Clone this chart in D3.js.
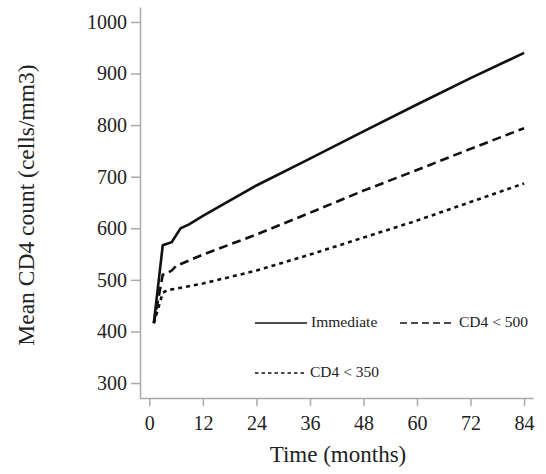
<!DOCTYPE html>
<meta charset="utf-8">
<style>
body { margin: 0; background: #fff; }
svg text { font-family: "Liberation Serif", "Times New Roman", serif; fill: #222; }
.axis path, .axis line { stroke: #aaa; stroke-width: 1.5; fill: none; }
.series { fill: none; stroke: #111; stroke-width: 2.6; }
</style>
<body>
<svg id="chart" width="546" height="474"></svg>
<script src="https://d3js.org/d3.v7.min.js"></script>
<script>
// months and mean CD4 count
var immMonths = [1, 3, 5, 7, 9, 12, 24, 36, 48, 60, 72, 84];
var immValues = [416, 567, 573, 600, 608, 624, 683, 735, 788, 840, 891, 940];

var c500Months = [1, 3, 4, 5, 6, 12, 24, 36, 48, 60, 72, 84];
var c500Values = [416, 510, 513, 518, 527, 549, 588, 630, 673, 713, 754, 794];

var c350Months = [1, 3, 4, 6, 12, 24, 36, 48, 60, 72, 84];
var c350Values = [416, 475, 480, 483, 493, 518, 549, 582, 615, 651, 687];

var xTicks = [0, 12, 24, 36, 48, 60, 72, 84];
var yTicks = [300, 400, 500, 600, 700, 800, 900, 1000];

var serif = "Liberation Serif, Times New Roman, serif";

var svg = d3.select("#chart");

var x = d3.scaleLinear().domain([-2.1, 86]).range([140, 533]);
var y = d3.scaleLinear().domain([271, 1029]).range([398, 7]);

// axes
svg.append("g")
  .attr("class", "x axis")
  .attr("transform", "translate(0,398)")
  .call(d3.axisBottom(x).tickValues(xTicks).tickFormat(d3.format("d"))
    .tickSize(8).tickSizeOuter(0).tickPadding(10));

svg.append("g")
  .attr("class", "y axis")
  .attr("transform", "translate(140,0)")
  .call(d3.axisLeft(y).tickValues(yTicks).tickFormat(d3.format("d"))
    .tickSize(9).tickSizeOuter(0).tickPadding(4));

svg.selectAll(".axis")
  .attr("font-family", serif)
  .attr("font-size", 20);
svg.selectAll(".axis .tick text").attr("fill", "#222");

// series
var line = d3.line().x(d => x(d[0])).y(d => y(d[1]));

var series = [
  {months: immMonths, values: immValues, dash: null},
  {months: c500Months, values: c500Values, dash: "9,5"},
  {months: c350Months, values: c350Values, dash: "4,4"}
];

series.forEach(s => {
  svg.append("path")
    .attr("class", "series")
    .attr("d", line(d3.zip(s.months, s.values)))
    .attr("stroke-dasharray", s.dash);
});

// axis titles
svg.append("text")
  .attr("x", 338).attr("y", 462)
  .attr("text-anchor", "middle")
  .attr("font-family", serif)
  .attr("font-size", 23)
  .text("Time (months)");

svg.append("text")
  .attr("transform", "translate(34,205) rotate(-90)")
  .attr("text-anchor", "middle")
  .attr("font-family", serif)
  .attr("font-size", 23.5)
  .text("Mean CD4 count (cells/mm3)");

// legend
var legend = [
  {label: "Immediate", dash: null, x: 255, y: 323, len: 52},
  {label: "CD4 < 500", dash: "7,4", x: 400, y: 323, len: 55},
  {label: "CD4 < 350", dash: "3.5,3", x: 255, y: 373, len: 51}
];

legend.forEach(l => {
  svg.append("line")
    .attr("x1", l.x).attr("x2", l.x + l.len)
    .attr("y1", l.y).attr("y2", l.y)
    .attr("stroke", "#111").attr("stroke-width", 1.6)
    .attr("stroke-dasharray", l.dash);
  svg.append("text")
    .attr("x", l.x + l.len + 4).attr("y", l.y)
    .attr("dominant-baseline", "middle")
    .attr("font-family", serif)
    .attr("font-size", 15.5)
    .text(l.label);
});
</script>
</body>
